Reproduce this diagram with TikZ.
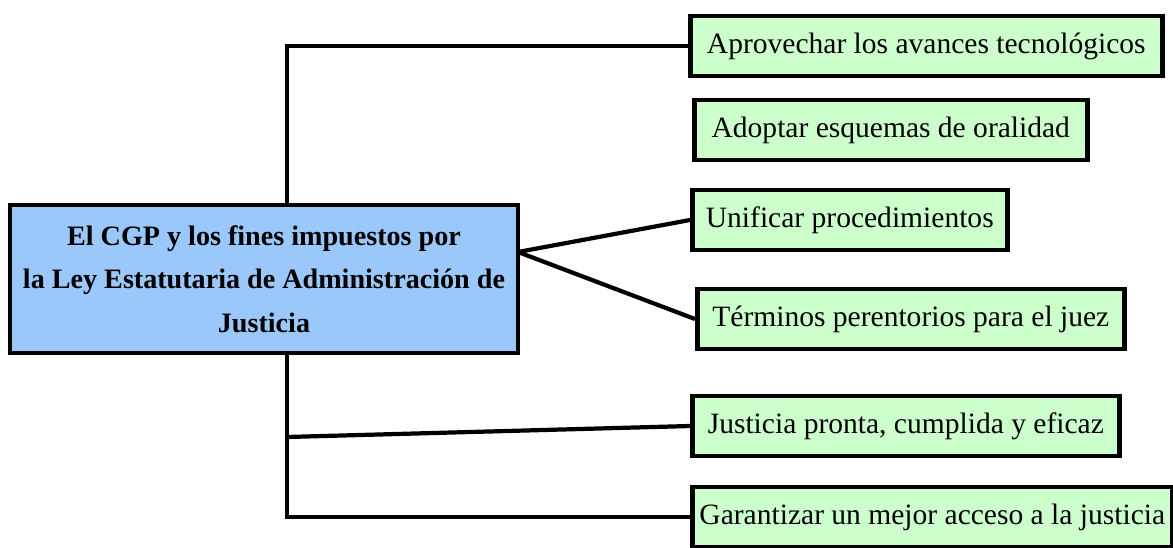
\documentclass[tikz,border=0pt]{standalone}
\usepackage{fontspec}
\setmainfont{Liberation Serif}
\usetikzlibrary{positioning}

\definecolor{topicblue}{RGB}{155,200,250}
\definecolor{aimgreen}{RGB}{204,255,204}

\tikzset{
    topic/.style = {draw, fill = topicblue, line width = 3.2pt,
        align = center, font = \fontsize{20}{31}\selectfont\bfseries,
        minimum width = 12.7cm, minimum height = 3.7cm, inner sep = 0pt},
    aim/.style = {draw, fill = aimgreen, line width = 3.2pt, anchor = west,
        font = \fontsize{21}{25}\selectfont, inner sep = 0pt,
        minimum height = 1.5cm},
}

\begin{document}
\begin{tikzpicture}[%
        x = 0.025cm,
        y = -0.025cm,
        line width = 3pt,
    ]

        \useasboundingbox (0, 0) rectangle (1173, 547);

        % The central topic.
        \node[topic] (cgp) at (264, 279)
            {El CGP y los fines impuestos por\\
             la Ley Estatutaria de Administración de\\
             Justicia};

        % The aims on the right.
        \node[aim, minimum width = 11.8cm] (avances) at (688, 46)
            {Aprovechar los avances tecnológicos};
        \node[aim, minimum width = 9.825cm] (oralidad) at (692, 130)
            {Adoptar esquemas de oralidad};
        \node[aim, minimum width = 7.875cm] (unificar) at (690, 220)
            {Unificar procedimientos};
        \node[aim, minimum width = 10.675cm] (terminos) at (695, 319)
            {Términos perentorios para el juez};
        \node[aim, minimum width = 10.675cm] (pronta) at (690, 426)
            {Justicia pronta, cumplida y eficaz};
        \node[aim, minimum width = 12cm] (acceso) at (690, 517)
            {Garantizar un mejor acceso a la justicia};

        % Joints of the connectors.
        \coordinate (trunk) at (287, 0);
        \coordinate (fork) at (518, 252);
        \coordinate (branch) at (287, 437);

        % Connect the topic with the aims.
        \draw (cgp.north -| trunk) |- (avances.west);
        \draw (cgp.south -| trunk) |- (acceso.west);
        \draw (branch) to (pronta.west);
        \draw (fork) to (unificar.west);
        \draw (fork) to (terminos.west);
    \end{tikzpicture}
\end{document}
